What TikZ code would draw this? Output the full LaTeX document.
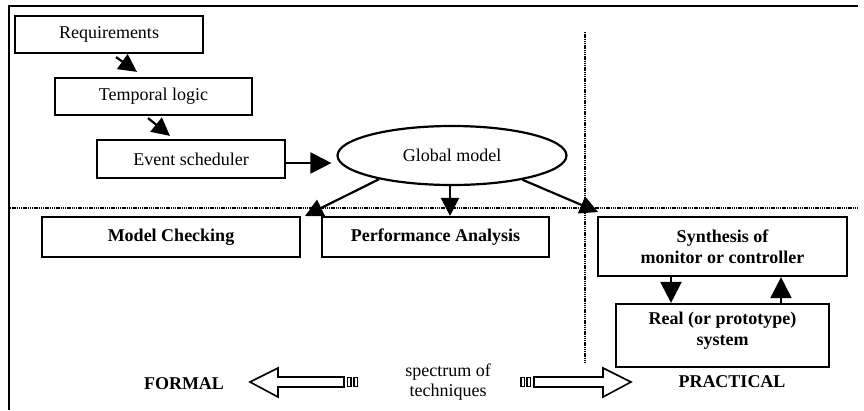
\documentclass[tikz,border=0pt]{standalone}
\usepackage{fontspec}
\setmainfont{Liberation Serif}
\usetikzlibrary{arrows.meta,shapes.geometric,calc}
\begin{document}
\begin{tikzpicture}[x=1pt,y=-1pt,
  box/.style={draw,line width=2.2pt,rectangle,inner sep=0pt,font=\fontsize{18}{21}\selectfont,align=center},
  bbox/.style={box,font=\fontsize{18}{21}\selectfont\bfseries},
  arr/.style={line width=2.2pt,-{Triangle[length=18pt,width=18pt]}},
  barr/.style={line width=2.2pt,-{Triangle[length=21pt,width=21pt]}},
  dotl/.style={line width=2pt,dash pattern=on 1.4pt off 0.8pt},
  hollow/.style={draw,line width=1.6pt,fill=white},
  lbl/.style={font=\fontsize{18}{21}\selectfont\bfseries,inner sep=0pt},
  rlbl/.style={font=\fontsize{18}{20}\selectfont,inner sep=0pt,align=center}]
\useasboundingbox (0,0) rectangle (864,410);
% frame
\draw[line width=2.8pt] (9,410) -- (9,6) -- (858,6);
% separators
\draw[dotl] (10,208) -- (858,208);
\draw[dotl] (585,32) -- (585,363);
% nodes
\node[box,minimum width=188pt,minimum height=37pt] (req) at (109,34.5) {Requirements};
\node[box,minimum width=197pt,minimum height=37pt] (tl) at (153.5,96.5) {Temporal logic};
\node[box,minimum width=188pt,minimum height=38pt] (es) at (191,159) {Event scheduler};
\node[draw,line width=2.2pt,ellipse,minimum width=229pt,minimum height=59pt,inner sep=0pt,font=\fontsize{18}{21}\selectfont] (gm) at (452,155.5) {Global model};
\node[bbox,minimum width=258pt,minimum height=40pt] (mc) at (171,237) {Model Checking};
\node[bbox,minimum width=227pt,minimum height=40pt] (pa) at (435.5,237) {Performance Analysis};
\node[bbox,minimum width=249pt,minimum height=59pt] (sy) at (722.5,246.5) {Synthesis of\\monitor or controller};
\node[bbox,minimum width=213pt,minimum height=63pt] (rs) at (722.5,335.5) {Real (or prototype)\\system\\[-8pt]\mbox{}};
% labels
\node[lbl] (formal) at (184,384) {FORMAL};
\node[lbl] (practical) at (732,382) {PRACTICAL};
\node[rlbl] (spec) at (448,382) {spectrum of\\techniques};
% connectors
\draw[arr] ([xshift=7pt,yshift=-3pt]req.south) -- ([xshift=-16.5pt,yshift=5pt]tl.north);
\draw[arr] ([xshift=-5.5pt,yshift=-2pt]tl.south) -- ([xshift=-21pt,yshift=3pt]es.north);
\draw[barr,shorten >=5pt] ([yshift=-4pt]es.east) -- ([yshift=-4pt]es.east -| gm.west);
\coordinate (mcin) at (305,216);
\coordinate (syin) at (598,212);
\draw[arr] (gm.198) -- (mcin);
\draw[arr] ([xshift=-2pt]gm.south) -- ([xshift=-2pt]gm.south |- pa.north);
\draw[arr] (gm.341) -- (syin);
\draw[barr] ([xshift=-51.5pt]sy.south) -- ([xshift=-51.5pt]rs.north);
\draw[barr] ([xshift=58.5pt]rs.north) -- ([xshift=58.5pt]sy.south);
% hollow arrows
\draw[hollow] (250,382) -- (278,368) -- (278,377) -- (344,377) -- (344,387) -- (278,387) -- (278,397) -- cycle;
\draw[line width=1.8pt] (347.5,377.5) rectangle (351,386.5);
\draw[line width=1.8pt] (354,377.5) rectangle (357.5,386.5);
\draw[hollow] (631,382) -- (603,368) -- (603,377) -- (534,377) -- (534,387) -- (603,387) -- (603,397) -- cycle;
\draw[line width=1.8pt] (521,377.5) rectangle (524.5,386.5);
\draw[line width=1.8pt] (527,377.5) rectangle (530.5,386.5);
\end{tikzpicture}
\end{document}
